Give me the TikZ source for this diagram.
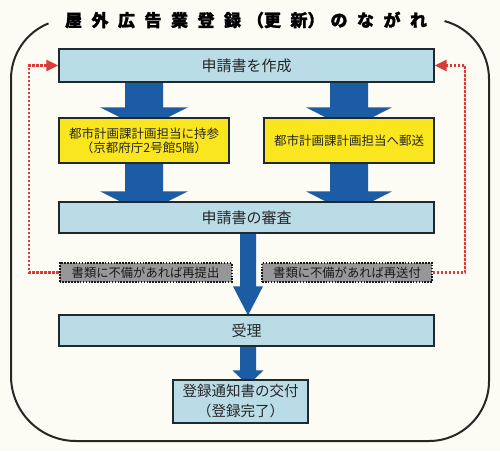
\documentclass[tikz,border=0pt]{standalone}
\usepackage{fontspec}
\newfontfamily\cjk{Noto Sans CJK JP}
\usetikzlibrary{arrows.meta,calc}
\definecolor{bg}{HTML}{FDFCF4}
\definecolor{boxblue}{HTML}{B9DCE7}
\definecolor{ylw}{HTML}{FAE61E}
\definecolor{abl}{HTML}{1C5CA4}
\definecolor{gry}{HTML}{979797}
\definecolor{rd}{HTML}{D93A3A}
\definecolor{edge}{HTML}{1E2A2E}
\pgfdeclarelayer{back}
\pgfsetlayers{back,main}
\tikzset{
 stepbox/.style={draw=edge, line width=1.3pt, fill=boxblue, minimum width=375pt, minimum height=32pt, inner sep=0pt, font=\cjk\fontsize{15}{18}\selectfont, text=black!85},
 ybox/.style={draw=edge, line width=1.3pt, fill=ylw, minimum width=170pt, minimum height=45pt, inner sep=0pt, align=center, font=\cjk\fontsize{12.5}{14}\selectfont, text=black!85},
 gbox/.style={draw=black!90, line width=2pt, dash pattern=on 1.6pt off 1.3pt, fill=gry, minimum width=172pt, minimum height=19pt, inner sep=0pt, font=\cjk\fontsize{12.3}{14}\selectfont, text=black!90},
 redline/.style={draw=rd, line width=2.3pt, dash pattern=on 2.2pt off 1.8pt, -{Triangle[length=12pt,width=11pt]}},
 framestyle/.style={draw=black!85, line width=2pt},
}
\newcommand\blockarrow[5]{%
 \fill[abl] ($(#1)+(-#4,0)$) -- ($(#2)+(-#4,#3)$) -- ($(#2)+(-#5,#3)$) -- (#2) -- ($(#2)+(#5,#3)$) -- ($(#2)+(#4,#3)$) -- ($(#1)+(#4,0)$) -- cycle;}
\begin{document}
\begin{tikzpicture}[x=1pt,y=1pt]
\begin{pgfonlayer}{back}
\fill[bg] (0,0) rectangle (500,451);
\end{pgfonlayer}
\useasboundingbox (0,0) rectangle (500,451);
% frame
\draw[framestyle] (71,372) ++(112:60) arc[start angle=112,end angle=180,radius=60] -- (11,75) arc[start angle=180,end angle=270,radius=65] -- (429,10) arc[start angle=270,end angle=360,radius=60] -- (489,372) arc[start angle=0,end angle=75,radius=60];
% title
\node (title) at (246,431) {\cjk\bfseries\addfontfeature{FakeBold=1.5}\fontsize{17}{19}\selectfont 屋\hspace{9.5pt}外\hspace{9.5pt}広\hspace{9.5pt}告\hspace{9.5pt}業\hspace{9.5pt}登\hspace{9.5pt}録\hspace{6pt}（更\hspace{9.5pt}新）\hspace{6pt}の\hspace{9.5pt}な\hspace{9.5pt}が\hspace{9.5pt}れ};
% nodes
\node[stepbox, minimum height=33pt] (b1) at (246.5,385.5) {申請書を作成};
\node[ybox] (yl) at (144,310.5) {都市計画課計画担当に持参\\（京都府庁2号館5階）};
\node[ybox] (yr) at (349,310.5) {都市計画課計画担当へ郵送};
\node[stepbox, minimum height=31pt] (b2) at (246.5,233.5) {申請書の審査};
\node[gbox] (gl) at (145.5,178.5) {書類に不備があれば再提出};
\node[gbox, minimum width=170pt] (gr) at (347,178.5) {書類に不備があれば再送付};
\node[stepbox, minimum height=31pt] (b3) at (246.5,120.5) {受理};
\node[stepbox, minimum width=135pt, minimum height=43pt, align=center, font=\cjk\fontsize{14.5}{20}\selectfont] (b4) at (240.5,49.5) {登録通知書の交付\\（登録完了）};
% block arrows
\coordinate (cx) at (248,0);
\coordinate (s1) at (b1.south -| yl.north);
\coordinate (t1) at ($(yl.north)+(0,-12)$);
\coordinate (s2) at (yl.south);
\coordinate (t2) at ($(b2.north -| yl.north)+(0,-12)$);
\coordinate (s3) at (b1.south -| yr.north);
\coordinate (t3) at ($(yr.north)+(0,-12)$);
\coordinate (s4) at (yr.south);
\coordinate (t4) at ($(b2.north -| yr.north)+(0,-12)$);
\coordinate (s5) at (b2.south -| cx);
\coordinate (t5) at ($(b3.north -| cx)+(0,-1)$);
\coordinate (s6) at (b3.south -| cx);
\coordinate (t6) at ($(b4.north -| cx)+(0,-6)$);
\begin{pgfonlayer}{back}
\blockarrow{s1}{t1}{22}{19}{44}
\blockarrow{s2}{t2}{22}{19}{44}
\blockarrow{s3}{t3}{22}{19}{43}
\blockarrow{s4}{t4}{22}{19}{43}
\blockarrow{s5}{t5}{29}{8}{15}
\blockarrow{s6}{t6}{15}{8}{15.5}
\end{pgfonlayer}
% red return lines
\coordinate (lc) at (29,0);
\coordinate (rc) at (465,0);
\draw[redline] (gl.west) -| (lc |- b1.west) -- (b1.west);
\draw[redline] (gr.east) -| (rc |- b1.east) -- (b1.east);
\end{tikzpicture}
\end{document}
